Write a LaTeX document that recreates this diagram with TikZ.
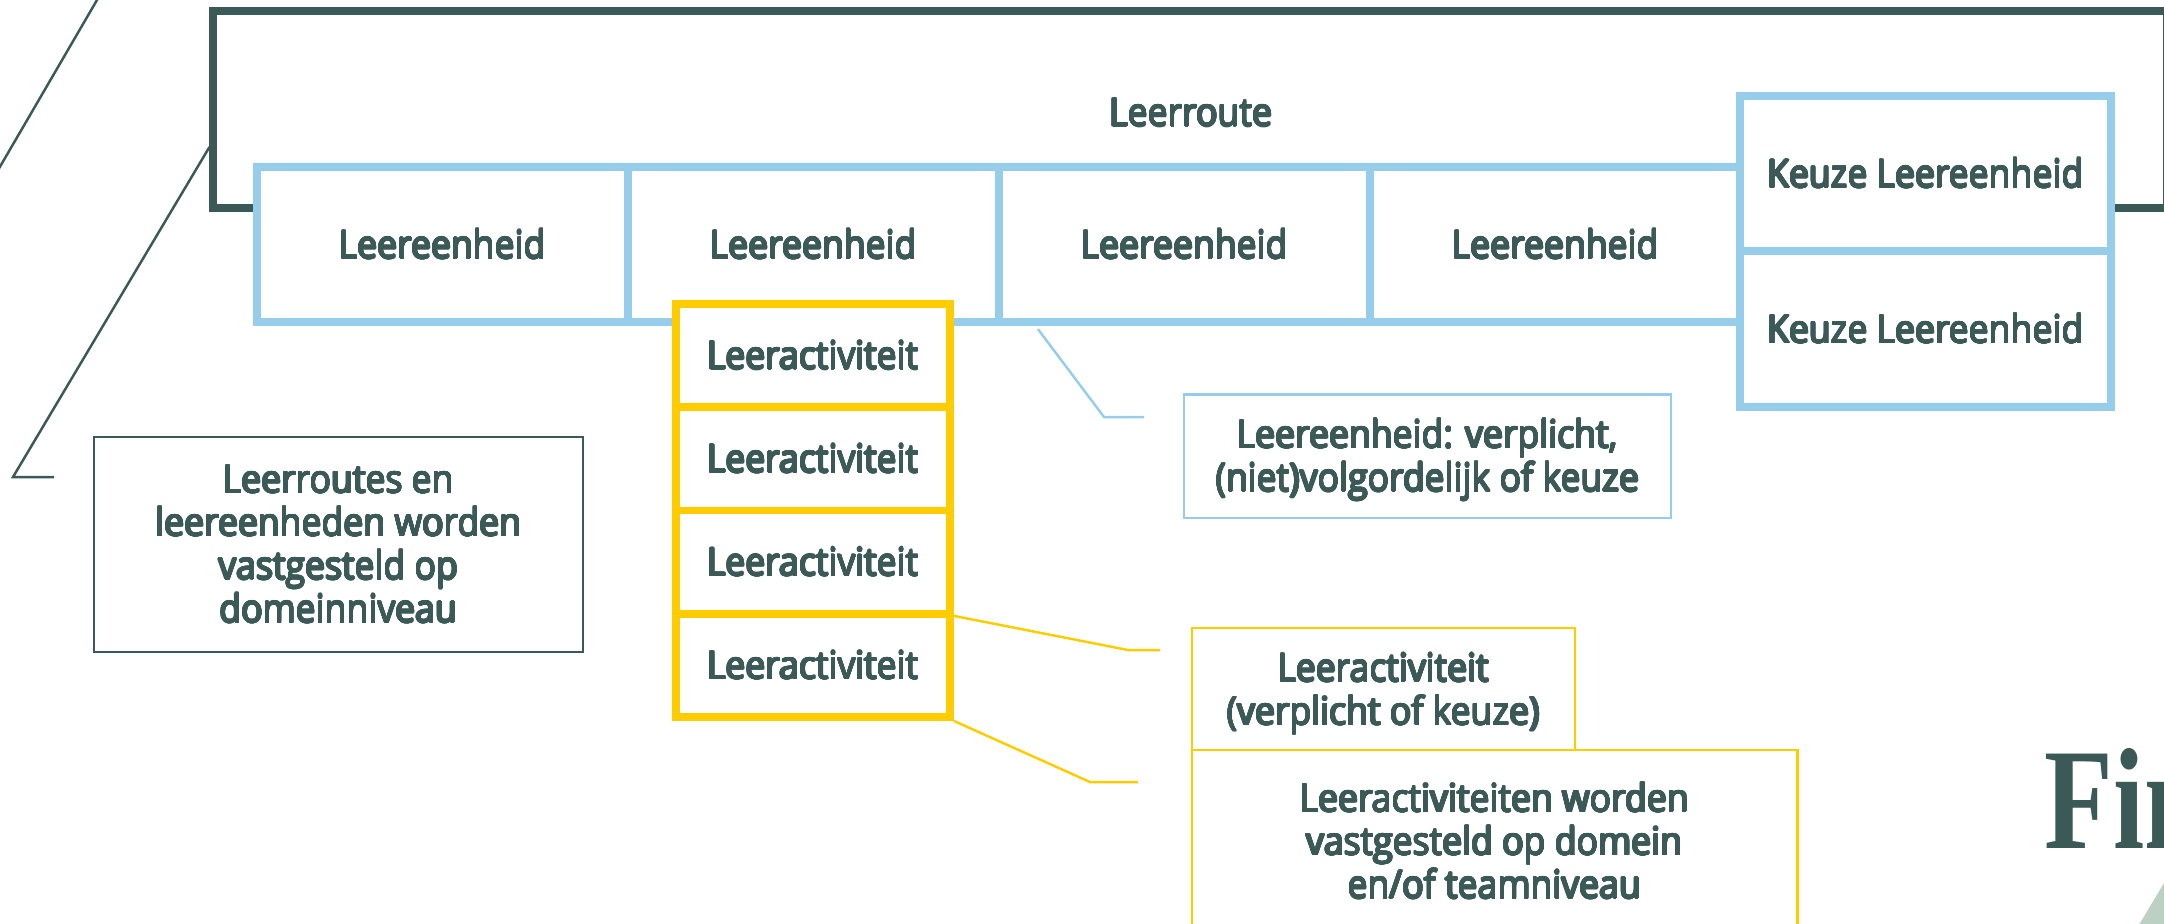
\documentclass[tikz,border=0pt]{standalone}
\usepackage{fontspec}
\usepackage[copies]{contour}
\usetikzlibrary{calc}
\newfontfamily\semi{Open Sans}[FakeStretch=0.92]
\newfontfamily\logofont{Liberation Serif}
\definecolor{dk}{HTML}{3A5957}
\definecolor{lb}{HTML}{96CDEA}
\definecolor{yl}{HTML}{FFCC00}
\definecolor{gr}{HTML}{BCD0C4}
\contourlength{0.22pt}
\contournumber{16}
\newcommand\B[1]{\contour{dk}{#1}}
\begin{document}
\begin{tikzpicture}[x=0.01cm,y=-0.01cm,
  lbl/.style={font=\semi\fontsize{11}{12.3}\selectfont, text=dk},
  routebox/.style={lbl, draw=dk, line width=2.28pt, fill=white, inner sep=0pt,
    minimum width=19.52cm, minimum height=1.97cm},
  unitbox/.style={lbl, draw=lb, line width=2.28pt, fill=white, inner sep=0pt,
    minimum width=3.71cm, minimum height=1.55cm},
  keuzebox/.style={unitbox, minimum height=1.555cm},
  actbox/.style={lbl, draw=yl, line width=2.2pt, fill=white, inner sep=0pt,
    minimum width=2.74cm, minimum height=1.0325cm},
  notebox/.style={lbl, align=center, line width=0.6pt, fill=white, inner sep=0pt},
  thinline/.style={line width=0.7pt}
]
\useasboundingbox (0,0) rectangle (2164,923);
\clip (0,0) rectangle (2164,923);

% decorative diagonal
\draw[thinline, dk] (104,-12) -- (-6,177);

% Leerroute frame
\node[routebox] (lr) at (1190,109.5) {};
\node[lbl] (lrt) at (1191,113) {\B{Leerroute}};

% callout from Leerroute to note
\coordinate (lcb) at (13,477);
\coordinate (lce) at (54,477);
\draw[thinline, dk] ([yshift=-0.375cm]lr.west) -- (lcb) -- (lce);

% Leereenheden
\node[unitbox] (u1) at (442.5,244.5) {\B{Leereenheid}};
\node[unitbox] (u2) at (813.5,244.5) {\B{Leereenheid}};
\node[unitbox] (u3) at (1184.5,244.5) {\B{Leereenheid}};
\node[unitbox] (u4) at (1555.5,244.5) {\B{Leereenheid}};
\node[keuzebox] (k1) at (1925.5,173.5) {\B{Keuze Leereenheid}};
\node[keuzebox] (k2) at (1925.5,329) {\B{Keuze Leereenheid}};

% connectors
\coordinate (bcb) at (1104,417);
\coordinate (bce) at (1144,417);
\draw[thinline, lb] ([xshift=0.43cm,yshift=-0.03cm]u3.south west) -- (bcb) -- (bce);

% Leeractiviteiten
\node[actbox] (a1) at (813,355.6) {\B{Leeractiviteit}};
\node[actbox] (a2) at (813,458.9) {\B{Leeractiviteit}};
\node[actbox] (a3) at (813,562.1) {\B{Leeractiviteit}};
\node[actbox] (a4) at (813,665.4) {\B{Leeractiviteit}};

\coordinate (y1b) at (1128,650);
\coordinate (y1e) at (1160,650);
\coordinate (y2b) at (1090,782);
\coordinate (y2e) at (1138,782);
\draw[thinline, yl] ([yshift=-0.06cm]a4.north east) -- (y1b) -- (y1e);
\draw[thinline, yl] (a4.south east) -- (y2b) -- (y2e);

% notes
\node[notebox, draw=dk, minimum width=4.89cm, minimum height=2.15cm] (nd) at (338.5,544.5)
  {\B{Leerroutes en}\\\B{leereenheden worden}\\\B{vastgesteld op}\\\B{domeinniveau}};
\node[notebox, draw=lb, minimum width=4.87cm, minimum height=1.23cm] (nb) at (1427.5,456)
  {};
\node[notebox] (nbt) at (1427.5,460) {\B{Leereenheid: verplicht,}\\\B{(niet)volgordelijk of keuze}};
\node[notebox, draw=yl, line width=0.75pt, minimum width=6.05cm, minimum height=1.82cm] (ny2) at (1494.5,841)
  {\B{Leeractiviteiten worden}\\\B{vastgesteld op domein}\\\B{en/of teamniveau}};
\node[notebox, draw=yl, line width=0.75pt, minimum width=3.83cm, minimum height=1.22cm] (ny1) at (1383.5,689)
  {};
\node[notebox] (ny1t) at (1383.5,694) {\B{Leeractiviteit}\\\B{(verplicht of keuze)}};

% logo fragment
\node[anchor=base west, inner sep=0pt, text=dk, font=\logofont\bfseries\fontsize{41}{41}\selectfont]
  (logo) at (2044,848) {\scalebox{0.78}[1]{Fin}};
\fill[gr] (2134,933) -- (2170,873) -- (2170,933) -- cycle;
\end{tikzpicture}
\end{document}
